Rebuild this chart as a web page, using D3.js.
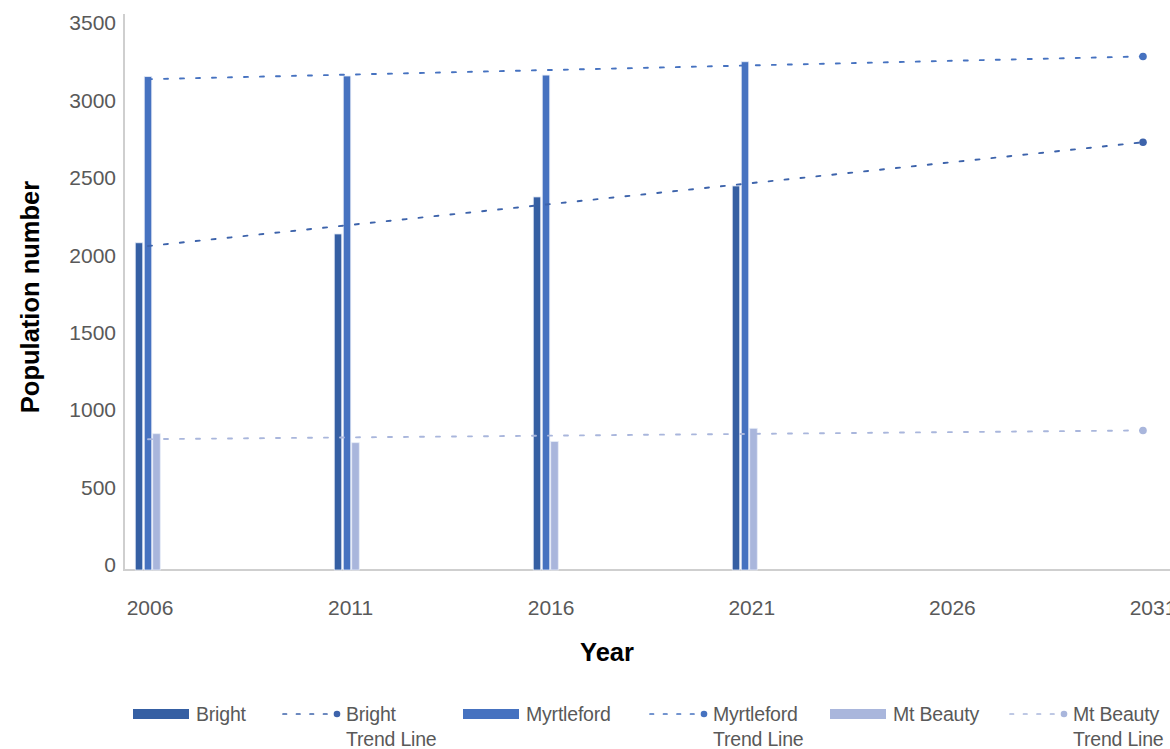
<!DOCTYPE html>
<html>
<head>
<meta charset="utf-8">
<script src="https://cdn.jsdelivr.net/npm/d3@7"></script>
<style>
  body { margin: 0; background: #fff; }
  text { font-family: "Liberation Sans", Arial, sans-serif; }
</style>
</head>
<body>
<svg id="chart" width="1170" height="749"></svg>
<script>
// Data
const years = [2006, 2011, 2016, 2021, 2026, 2031];
const censusYears = [2006, 2011, 2016, 2021];
const bright = [2113, 2170, 2409, 2480];
const myrtleford = [3186, 3190, 3196, 3282];
const mtBeauty = [880, 822, 830, 915];
const yTicks = [0, 500, 1000, 1500, 2000, 2500, 3000, 3500];

const width = 1170, height = 749;
const svg = d3.select('#chart');

const x = d3.scaleLinear().domain([2006, 2031]).range([148, 1143]);
// tick labels sit a little right of the plotted points
const xLabel = d3.scaleLinear().domain([2006, 2031]).range([150, 1153]);
const y = d3.scaleLinear().domain([0, 3500]).range([570, 28]);

const series = [
  { name: 'Bright', values: bright, bar: '#355fa3', trend: '#3d63ab', offset: -9 },
  { name: 'Myrtleford', values: myrtleford, bar: '#4672c0', trend: '#4672c0', offset: 0 },
  { name: 'Mt Beauty', values: mtBeauty, bar: '#a9b6dc', trend: '#a9b6dc', offset: 8.5 }
];

// linear trend over the census points, forecast two periods forward (like Excel)
function trendValues(vals) {
  const n = vals.length;
  const xs = d3.range(n);
  const mx = d3.mean(xs), my = d3.mean(vals);
  const slope = d3.sum(xs, i => (i - mx) * (vals[i] - my)) / d3.sum(xs, i => (i - mx) ** 2);
  return years.map((yr, i) => ({ year: yr, value: my + slope * (i - mx) }));
}

// axis lines
svg.append('line')
  .attr('x1', 124).attr('x2', 124).attr('y1', 14).attr('y2', y(0) + 1)
  .attr('stroke', '#cfcfcf').attr('stroke-width', 2);
svg.append('line')
  .attr('x1', 123).attr('x2', width).attr('y1', y(0)).attr('y2', y(0))
  .attr('stroke', '#cfcfcf').attr('stroke-width', 2);

// y tick labels
svg.append('g').selectAll('text')
  .data(yTicks)
  .enter().append('text')
  .attr('x', 116)
  .attr('y', d => y(d) - 5)
  .attr('dy', '0.35em')
  .attr('text-anchor', 'end')
  .attr('fill', '#595959')
  .style('font-size', '21px')
  .text(d => d);

// x tick labels
svg.append('g').selectAll('text')
  .data(years)
  .enter().append('text')
  .attr('x', d => xLabel(d))
  .attr('y', 615)
  .attr('text-anchor', 'middle')
  .attr('fill', '#595959')
  .style('font-size', '21px')
  .text(d => d);

// axis titles
svg.append('text')
  .attr('transform', 'translate(39,297) rotate(-90)')
  .attr('text-anchor', 'middle')
  .attr('fill', '#000')
  .style('font-size', '25.5px').style('font-weight', 'bold')
  .text('Population number');
svg.append('text')
  .attr('x', 607).attr('y', 661)
  .attr('text-anchor', 'middle')
  .attr('fill', '#000')
  .style('font-size', '25.5px').style('font-weight', 'bold')
  .text('Year');

// bars
const barW = 7.5;
series.forEach(s => {
  svg.append('g').selectAll('rect')
    .data(censusYears.map((yr, i) => ({ year: yr, value: s.values[i] })))
    .enter().append('rect')
    .attr('x', d => x(d.year) + s.offset - barW / 2)
    .attr('y', d => y(d.value))
    .attr('width', barW)
    .attr('height', d => y(0) - y(d.value))
    .attr('fill', s.bar)
    .attr('stroke', '#e6ecf7')
    .attr('stroke-width', 0.8);
});

// trend lines
const line = d3.line().x(d => x(d.year)).y(d => y(d.value));
series.forEach(s => {
  const t = trendValues(s.values);
  svg.append('path')
    .datum(t)
    .attr('d', line)
    .attr('fill', 'none')
    .attr('stroke', s.trend)
    .attr('stroke-width', 1.9)
    .attr('stroke-linecap', 'round')
    .attr('stroke-dasharray', '4,12');
  const last = t[t.length - 1];
  svg.append('circle')
    .attr('cx', x(last.year)).attr('cy', y(last.value)).attr('r', 3.8)
    .attr('fill', s.trend);
});

// legend
const legendItems = [
  { type: 'bar', color: series[0].bar, x: 133, lines: ['Bright'] },
  { type: 'trend', color: series[0].trend, x: 283, lines: ['Bright', 'Trend Line'] },
  { type: 'bar', color: series[1].bar, x: 463, lines: ['Myrtleford'] },
  { type: 'trend', color: series[1].trend, x: 650, lines: ['Myrtleford', 'Trend Line'] },
  { type: 'bar', color: series[2].bar, x: 830, lines: ['Mt Beauty'] },
  { type: 'trend', color: series[2].trend, x: 1010, lines: ['Mt Beauty', 'Trend Line'] }
];
const lg = svg.append('g');
legendItems.forEach(it => {
  if (it.type === 'bar') {
    lg.append('rect').attr('x', it.x).attr('y', 709).attr('width', 56).attr('height', 10)
      .attr('fill', it.color);
  } else {
    lg.append('line').attr('x1', it.x).attr('x2', it.x + 46).attr('y1', 714).attr('y2', 714)
      .attr('stroke', it.color).attr('stroke-width', 1.7)
      .attr('stroke-linecap', 'round').attr('stroke-dasharray', '3.5,10');
    lg.append('circle').attr('cx', it.x + 54).attr('cy', 714).attr('r', 3.3).attr('fill', it.color);
  }
  it.lines.forEach((t, i) => {
    lg.append('text')
      .attr('x', it.x + 63).attr('y', 721 + i * 25)
      .attr('fill', '#595959')
      .style('font-size', '19.5px')
      .style('letter-spacing', '-0.2px')
      .text(t);
  });
});
</script>
</body>
</html>
